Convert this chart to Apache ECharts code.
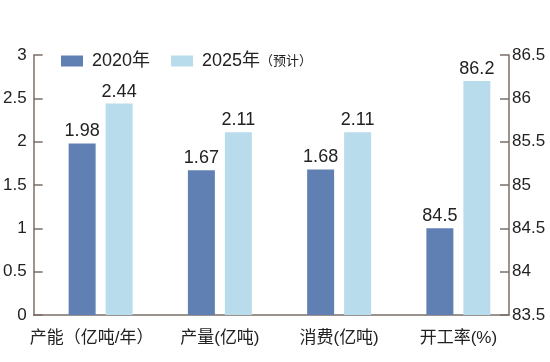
<!DOCTYPE html>
<html>
<head>
<meta charset="utf-8">
<script src="https://cdn.jsdelivr.net/npm/echarts@6/dist/echarts.min.js"></script>
<style>
html,body{margin:0;padding:0;background:#fff;}
#c{width:550px;height:362px;}
</style>
</head>
<body>
<div id="c"></div>
<script>
const categories = ['产能（亿吨/年）', '产量(亿吨)', '消费(亿吨)', '开工率(%)'];
const seriesNames = ['2020年', '2025年（预计）'];
// left axis (亿吨) values; last category is on the right axis
const left2020 = [1.98, 1.67, 1.68, '-'];
const left2025 = [2.44, 2.11, 2.11, '-'];
// right axis (%) values
const right2020 = ['-', '-', '-', 84.5];
const right2025 = ['-', '-', '-', 86.2];
const leftTicks = { min: 0, max: 3, interval: 0.5 };
const rightTicks = { min: 83.5, max: 86.5, interval: 0.5 };

const FONT = "'Liberation Sans', Arial, 'Noto Sans CJK SC', sans-serif";
const AX = '#7b6f69';
const DARK = '#6080b4';
const LIGHT = '#b9dcec';

const chart = echarts.init(document.getElementById('c'), null, { renderer: 'canvas' });

function valueLabel() {
  return { show: true, position: 'top', distance: 3, color: '#222', fontSize: 18, fontFamily: FONT };
}

const option = {
  backgroundColor: '#fff',
  animation: false,
  legend: {
    data: seriesNames,
    left: 56,
    top: 47,
    itemWidth: 22,
    itemHeight: 11,
    itemGap: 21,
    icon: 'rect',
    textStyle: {
      fontSize: 18, color: '#222', fontFamily: FONT, padding: [0, 0, 0, 4],
      rich: { s: { fontSize: 13, color: '#222', fontFamily: FONT } }
    },
    formatter: function (n) {
      if (n === seriesNames[1]) return '2025年{s|（预计）}';
      return n;
    }
  },
  grid: [
    { left: 32, right: 41, top: 55, bottom: 47 },
    { left: 41, right: 32, top: 55, bottom: 47 }
  ],
  xAxis: [
    {
      type: 'category', gridIndex: 0, data: categories,
      axisLine: { show: true, lineStyle: { color: AX, width: 1.5 } },
      axisTick: { show: false }, axisLabel: { show: false }, splitLine: { show: false }
    },
    {
      type: 'category', gridIndex: 1, data: categories,
      axisLine: { show: false }, axisTick: { show: false },
      axisLabel: {
        interval: 0, hideOverlap: false,
        margin: 15, color: '#222', fontSize: 17, fontFamily: FONT,
        formatter: function (v, i) { return i === 0 ? '{a|' + v + '}' : v; },
        rich: { a: { fontSize: 17, color: '#222', fontFamily: FONT, padding: [0, 18, 0, 0] } }
      }
    }
  ],
  yAxis: [
    {
      type: 'value', gridIndex: 0, position: 'left', min: leftTicks.min, max: leftTicks.max, interval: leftTicks.interval,
      axisLine: { show: true, lineStyle: { color: AX, width: 1.5 } },
      axisTick: { show: true, inside: true, length: 9, lineStyle: { color: AX, width: 1.5 } },
      axisLabel: { margin: 7, color: '#222', fontSize: 17, fontFamily: FONT },
      splitLine: { show: false }
    },
    {
      type: 'value', gridIndex: 0, position: 'right', min: rightTicks.min, max: rightTicks.max, interval: rightTicks.interval,
      axisLine: { show: true, lineStyle: { color: AX, width: 1.5 } },
      axisTick: { show: true, inside: true, length: 9, lineStyle: { color: AX, width: 1.5 } },
      axisLabel: { margin: 3, color: '#222', fontSize: 17, fontFamily: FONT },
      splitLine: { show: false }
    },
    { type: 'value', gridIndex: 1, show: false, min: leftTicks.min, max: leftTicks.max, interval: leftTicks.interval, splitLine: { show: false } },
    { type: 'value', gridIndex: 1, show: false, min: rightTicks.min, max: rightTicks.max, interval: rightTicks.interval, splitLine: { show: false } }
  ],
  series: [
    { name: seriesNames[0], type: 'bar', xAxisIndex: 1, yAxisIndex: 2, stack: 's2020', data: left2020,
      barWidth: 27, barGap: '37%', itemStyle: { color: DARK }, label: valueLabel() },
    { name: seriesNames[1], type: 'bar', xAxisIndex: 1, yAxisIndex: 2, stack: 's2025', data: left2025,
      barWidth: 27, barGap: '37%', itemStyle: { color: LIGHT }, label: valueLabel() },
    { name: seriesNames[0], type: 'bar', xAxisIndex: 1, yAxisIndex: 3, stack: 's2020', data: right2020,
      barWidth: 27, barGap: '37%', itemStyle: { color: DARK }, label: valueLabel() },
    { name: seriesNames[1], type: 'bar', xAxisIndex: 1, yAxisIndex: 3, stack: 's2025', data: right2025,
      barWidth: 27, barGap: '37%', itemStyle: { color: LIGHT }, label: valueLabel() }
  ]
};
chart.setOption(option);
</script>
</body>
</html>
